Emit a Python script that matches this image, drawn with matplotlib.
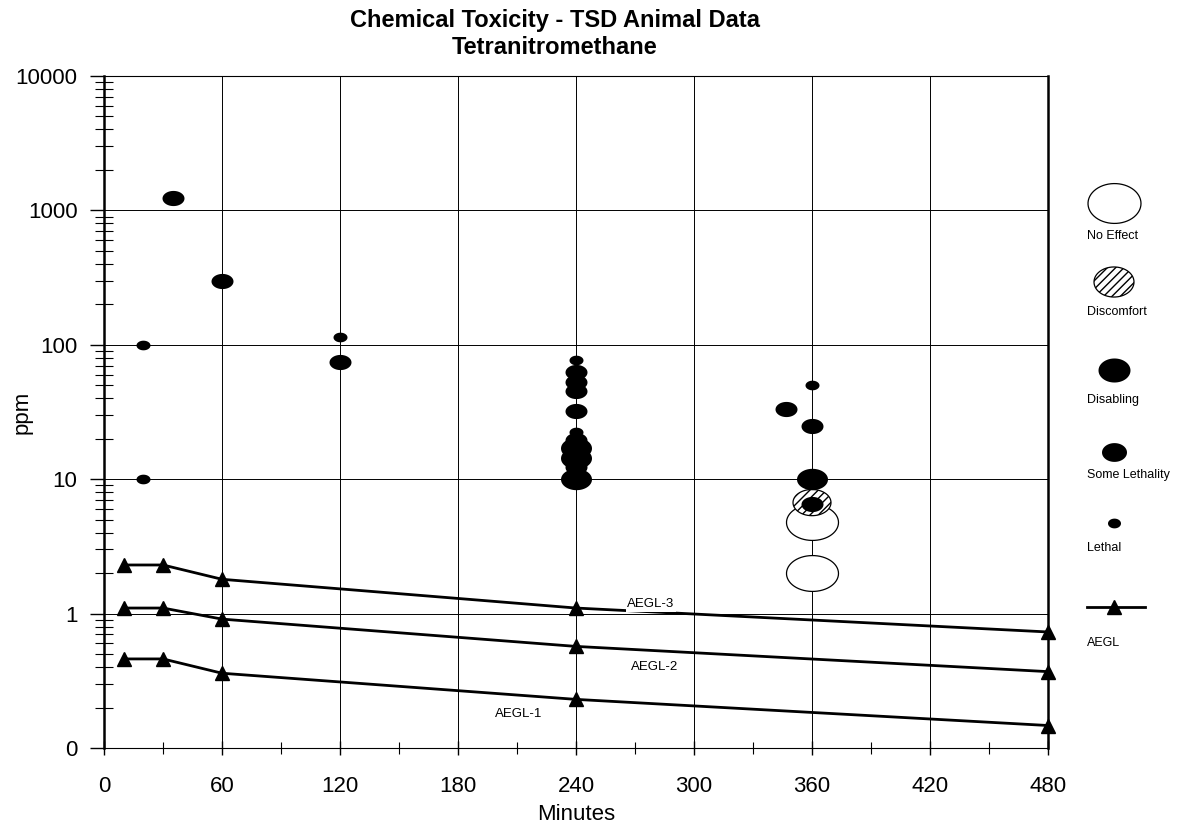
import numpy as np
import matplotlib
matplotlib.use("Agg")
import matplotlib.pyplot as plt
from matplotlib.path import Path
from matplotlib.ticker import FixedLocator, FixedFormatter, LogLocator, NullFormatter

plt.rcParams['font.family'] = ['Liberation Sans', 'DejaVu Sans']

# ---- data ----
aegl_x = [10, 30, 60, 240, 480]
aegl3 = [2.3, 2.3, 1.8, 1.1, 0.73]
aegl2 = [1.1, 1.1, 0.91, 0.57, 0.37]
aegl1 = [0.46, 0.46, 0.36, 0.23, 0.147]

no_effect_x = [360, 360]
no_effect_y = [4.8, 2.0]

discomfort_x = [360]
discomfort_y = [6.7]

disabling_x = [240, 240, 240, 360]
disabling_y = [17, 14.5, 10, 10]

some_leth_x = [35, 60, 120, 240, 240, 240, 240, 240, 240, 347, 360, 360]
some_leth_y = [1245, 300, 75, 63, 53, 45, 32, 19.7, 12.4, 33.5, 25, 6.5]

lethal_x = [20, 20, 120, 240, 240, 360]
lethal_y = [100, 10, 115, 77, 22.5, 50]

ytick_vals = [0.1, 1, 10, 100, 1000, 10000]
ytick_labels = ['0', '1', '10', '100', '1000', '10000']
xtick_vals = [0, 60, 120, 180, 240, 300, 360, 420, 480]
xminor_vals = [30, 90, 150, 210, 270, 330, 390, 450]

# ellipse shaped marker (wider than tall)
t = np.linspace(0, 2 * np.pi, 60)
ell = Path(np.column_stack([1.45 * np.cos(t), np.sin(t)]), closed=True)
ell_leg = Path(np.column_stack([1.33 * np.cos(t), np.sin(t)]), closed=True)

def pt(px):
    # marker width in pixels -> scatter size
    return (px * 0.72) ** 2

fig = plt.figure(figsize=(11.89, 8.3), dpi=100)
ax = fig.add_axes([104 / 1189, 1 - 748 / 830, 944 / 1189, 672 / 830])
ax.set_yscale('log')
ax.set_xlim(0, 480)
ax.set_ylim(0.1, 10000)

ax.grid(True, which='major', color='black', lw=0.7, zorder=0)
ax.set_axisbelow(True)

# AEGL lines
for yy in (aegl3, aegl2, aegl1):
    ax.plot(aegl_x, yy, color='black', lw=2, marker='^', ms=10, zorder=3, clip_on=False)

ax.text(278, 1.17, 'AEGL-3', fontsize=9.5, ha='center', va='center',
        bbox=dict(facecolor='white', edgecolor='none', pad=1), zorder=4)
ax.text(280, 0.40, 'AEGL-2', fontsize=9.5, ha='center', va='center', zorder=4)
ax.text(211, 0.18, 'AEGL-1', fontsize=9.5, ha='center', va='center', zorder=4)

# animal data
ax.scatter(no_effect_x, no_effect_y, marker=ell, s=pt(52), facecolor='white',
           edgecolor='black', lw=0.9, zorder=5)
ax.scatter(discomfort_x, discomfort_y, marker=ell, s=pt(38), facecolor='white',
           edgecolor='black', lw=0.9, hatch='////', zorder=6)
ax.scatter(disabling_x, disabling_y, marker=ell, s=pt(31), color='black', lw=0, zorder=7)
ax.scatter(some_leth_x, some_leth_y, marker=ell, s=pt(22), color='black', lw=0, zorder=7)
ax.scatter(lethal_x, lethal_y, marker=ell, s=pt(14), color='black', lw=0, zorder=7)

# axes styling
ax.yaxis.set_major_locator(FixedLocator(ytick_vals))
ax.yaxis.set_major_formatter(FixedFormatter(ytick_labels))
ax.yaxis.set_minor_locator(LogLocator(base=10, subs=np.arange(2, 10)))
ax.yaxis.set_minor_formatter(NullFormatter())
ax.set_xticks(xtick_vals)
ax.set_xticks(xminor_vals, minor=True)
ax.tick_params(axis='both', which='major', labelsize=16)
ax.tick_params(axis='y', which='major', length=10, width=1, direction='out', pad=9)
ax.tick_params(axis='y', which='minor', length=13, width=0.8, direction='inout')
ax.tick_params(axis='x', which='major', length=10, width=1, direction='inout', pad=15)
ax.tick_params(axis='x', which='minor', length=9, width=0.8, direction='inout')
for s in ('top', 'bottom'):
    ax.spines[s].set_linewidth(0.8)
for s in ('left', 'right'):
    ax.spines[s].set_linewidth(1.8)

ax.set_xlabel('Minutes', fontsize=16)
ax.set_ylabel('ppm', fontsize=16)
ax.xaxis.set_label_coords(0.5, -(815 - 748) / 672)
ax.xaxis.label.set_va('center')
ax.yaxis.set_label_coords(-(104 - 22) / 944, 0.5)
ax.yaxis.label.set_va('center')

fig.text(555 / 1189, 1 - 20 / 830, 'Chemical Toxicity - TSD Animal Data', fontsize=17,
         fontweight='bold', ha='center', va='center')
fig.text(555 / 1189, 1 - 48 / 830, 'Tetranitromethane', fontsize=17,
         fontweight='bold', ha='center', va='center')

# legend drawn on the right side in pixel coordinates
lg = fig.add_axes([0, 0, 1, 1], facecolor='none')
lg.set_xlim(0, 1189)
lg.set_ylim(830, 0)
lg.axis('off')
lg.scatter([1114], [203], marker=ell_leg, s=pt(53), facecolor='white', edgecolor='black', lw=0.9)
lg.scatter([1114], [282], marker=ell_leg, s=pt(40), facecolor='white', edgecolor='black',
           lw=0.9, hatch='////')
lg.scatter([1114], [370], marker=ell_leg, s=pt(32), color='black', lw=0)
lg.scatter([1114], [452], marker=ell_leg, s=pt(25), color='black', lw=0)
lg.scatter([1114], [523], marker=ell_leg, s=pt(13), color='black', lw=0)
lg.plot([1087, 1145], [607, 607], color='black', lw=2)
lg.plot([1114], [607], marker='^', color='black', ms=10)
leg_labels = ['No Effect', 'Discomfort', 'Disabling', 'Some Lethality', 'Lethal', 'AEGL']
leg_text_y = [236, 312, 400, 475, 548, 643]
for lab, yy in zip(leg_labels, leg_text_y):
    lg.text(1087, yy, lab, fontsize=9, ha='left', va='center')

fig.savefig('out.png', dpi=100)
